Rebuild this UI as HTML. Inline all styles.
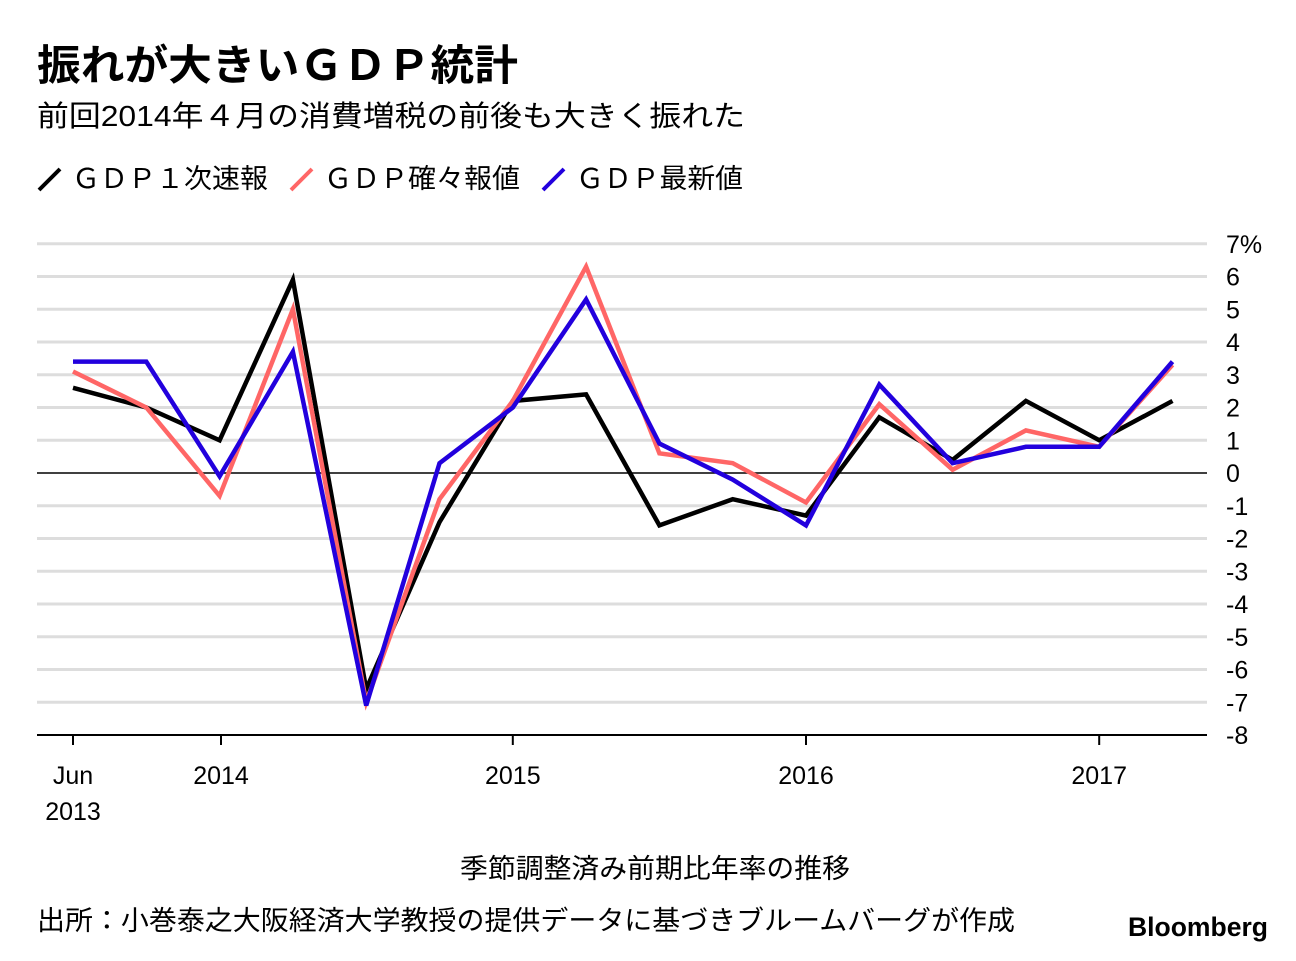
<!DOCTYPE html>
<html><head><meta charset="utf-8"><style>
body{margin:0;background:#fff;width:1296px;height:956px;overflow:hidden;font-family:"Liberation Sans","Noto Sans CJK JP",sans-serif;}
</style></head><body>
<svg id="chart" width="1296" height="956" xmlns="http://www.w3.org/2000/svg" font-family="Liberation Sans, Noto Sans CJK JP, sans-serif">
<text x="37" y="80" font-size="42" font-weight="bold" fill="#000" textLength="481" lengthAdjust="spacingAndGlyphs">振れが大きいＧＤＰ統計</text>
<text x="37" y="126" font-size="29" fill="#000" textLength="708" lengthAdjust="spacingAndGlyphs">前回2014年４月の消費増税の前後も大きく振れた</text>
<g font-size="27">
<g><line x1="39" y1="190" x2="60" y2="169" stroke="#000" stroke-width="4"/><text x="72" y="188" textLength="196" lengthAdjust="spacingAndGlyphs">ＧＤＰ１次速報</text></g>
<g><line x1="291" y1="190" x2="312" y2="169" stroke="#ff6666" stroke-width="4"/><text x="324" y="188" textLength="196" lengthAdjust="spacingAndGlyphs">ＧＤＰ確々報値</text></g>
<g><line x1="543" y1="190" x2="564" y2="169" stroke="#2200dd" stroke-width="4"/><text x="576" y="188" textLength="167" lengthAdjust="spacingAndGlyphs">ＧＤＰ最新値</text></g>
</g>
<g id="grid"></g>
<g id="series"></g>
<text x="460" y="878" font-size="27" textLength="390" lengthAdjust="spacingAndGlyphs">季節調整済み前期比年率の推移</text>
<text x="37" y="930" font-size="27" textLength="978" lengthAdjust="spacingAndGlyphs">出所：小巻泰之大阪経済大学教授の提供データに基づきブルームバーグが作成</text>
<text x="1128" y="936" font-size="27" font-weight="bold" textLength="140" lengthAdjust="spacingAndGlyphs">Bloomberg</text>
</svg>
<script>
const yTicks=[7,6,5,4,3,2,1,0,-1,-2,-3,-4,-5,-6,-7,-8];
const xTickLabels=["Jun","2014","2015","2016","2017"];
const xTickIdx=[0,2,6,10,14];
const firstEst=[2.6,2.0,1.0,5.9,-6.6,-1.5,2.2,2.4,-1.6,-0.8,-1.3,1.7,0.4,2.2,1.0,2.2];
const secondEst=[3.1,2.0,-0.7,5.0,-7.0,-0.8,2.2,6.3,0.6,0.3,-0.9,2.1,0.1,1.3,0.8,3.3];
const latest=[3.4,3.4,-0.1,3.7,-7.1,0.3,2.0,5.3,0.9,-0.2,-1.6,2.7,0.3,0.8,0.8,3.4];
const NS="http://www.w3.org/2000/svg";
const y=v=>473-v*32.75;
const x=i=>73+i*73.3;
function mk(t,a,p){const e=document.createElementNS(NS,t);for(const k in a)e.setAttribute(k,a[k]);p.appendChild(e);return e;}
const grid=document.getElementById('grid');
yTicks.forEach(v=>{
 const c=v===0||v===-8?'#000':'#dddddd';
 const l=mk('line',{x1:37,x2:1207,y1:y(v),y2:y(v),stroke:c,'stroke-width':v===0?1.5:(v===-8?2:3)},grid);
 
 
 const t=mk('text',{x:1226,y:y(v)+9,'font-size':25},grid);
 t.textContent=v+(v===7?'%':'');
 
 
});
xTickIdx.forEach((idx,k)=>{
 const xx=idx===2?221:(idx===0?73:x(idx));
 const l=mk('line',{x1:xx,x2:xx,y1:y(-8),y2:y(-8)+10,stroke:'#000','stroke-width':2},grid);
 
 
 const t=mk('text',{x:xx,y:784,'font-size':25,'text-anchor':'middle'},grid);
 t.textContent=xTickLabels[k];
 
 
});
const t2=mk('text',{x:73,y:820,'font-size':25,'text-anchor':'middle'},grid);
t2.textContent='2013';


const ser=document.getElementById('series');
[[firstEst,'#000','line-first-estimate'],[secondEst,'#ff6666','line-second-estimate'],[latest,'#2200dd','line-latest']].forEach(([d,c,n])=>{
 const p=mk('polyline',{points:d.map((v,i)=>x(i)+','+y(v)).join(' '),fill:'none',stroke:c,'stroke-width':4.5,'stroke-linejoin':'miter'},ser);
 
 
});
</script>
</body></html>
